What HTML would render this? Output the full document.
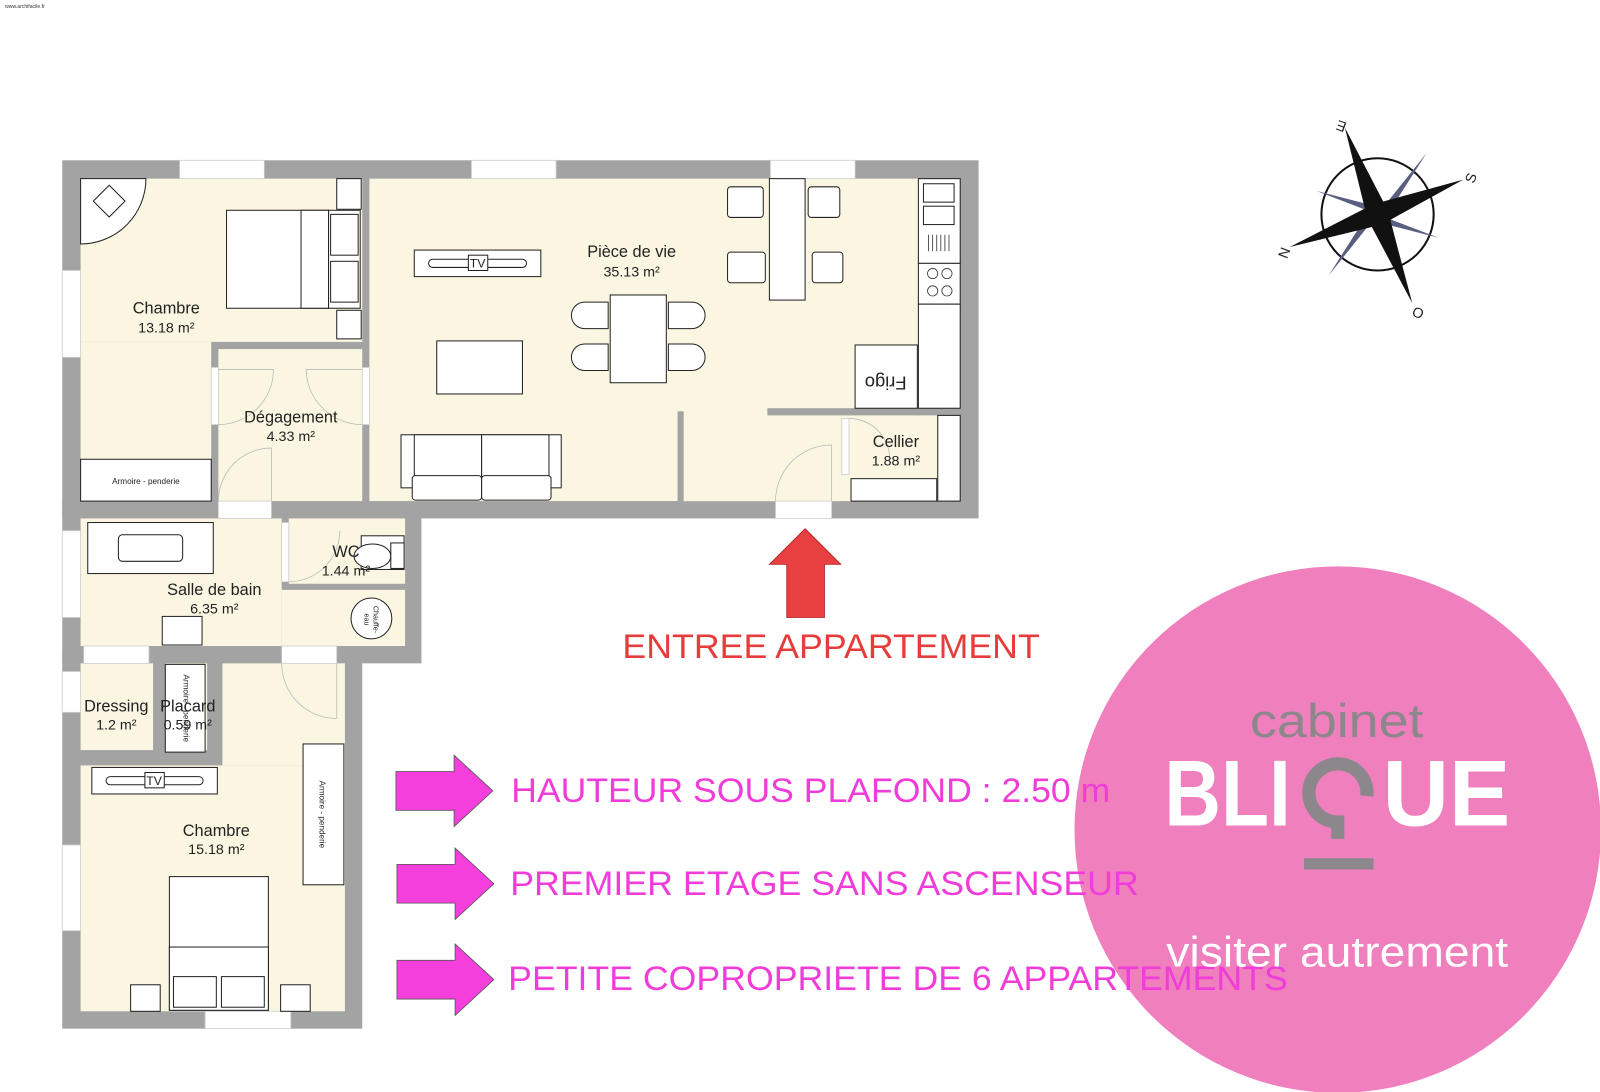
<!DOCTYPE html>
<html><head><meta charset="utf-8"><style>
html,body{margin:0;padding:0;background:#fff;width:1600px;height:1092px;overflow:hidden}
svg{display:block}
text{font-family:"Liberation Sans",sans-serif}
</style></head><body>
<svg width="1600" height="1092" viewBox="0 0 1568 1070" xmlns="http://www.w3.org/2000/svg">
<text x="5" y="8" font-size="5" fill="#333">www.archifacile.fr</text>

<g fill="#a3a3a3">
<rect x="61" y="157" width="898" height="351"/>
<rect x="61" y="490" width="352" height="160"/>
<rect x="61" y="640" width="294" height="368"/>
</g>
<g fill="#fbf6e1">
<rect x="79" y="175" width="276" height="160"/>
<rect x="79" y="335" width="128" height="156"/>
<rect x="214" y="342" width="141" height="149"/>
<rect x="362" y="175" width="538" height="316"/>
<rect x="900" y="175" width="41" height="225"/>
<rect x="752" y="407" width="73" height="84"/>
<rect x="832" y="407" width="109" height="84"/>
<rect x="670" y="400" width="82" height="91"/>
<rect x="79" y="508" width="197" height="125"/>
<rect x="276" y="578" width="121" height="55"/>
<rect x="283" y="508" width="114" height="64"/>
<rect x="79" y="650" width="71" height="85"/>
<rect x="162" y="650" width="41" height="85"/>
<rect x="218" y="650" width="120" height="100"/>
<rect x="79" y="750" width="259" height="241"/>
</g>
<rect x="664" y="403" width="6" height="88" fill="#a3a3a3"/>
<rect x="752" y="400" width="150" height="7" fill="#a3a3a3"/>
<g fill="#fff" stroke="#ccc" stroke-width="0.8">
<rect x="176" y="157" width="83" height="18"/>
<rect x="462" y="157" width="83" height="18"/>
<rect x="755" y="157" width="83" height="18"/>
<rect x="61" y="265" width="18" height="85"/>
<rect x="61" y="520" width="18" height="85"/>
<rect x="61" y="658" width="18" height="40"/>
<rect x="61" y="828" width="18" height="84"/>
<rect x="201" y="991" width="84" height="17"/>
<rect x="82" y="633" width="64" height="17"/>
<rect x="214" y="491" width="52" height="17"/>
<rect x="276" y="633" width="54" height="17"/>
<rect x="760" y="491" width="55" height="17"/>
<rect x="207" y="360" width="7" height="56"/>
<rect x="355" y="360" width="7" height="56"/>
<rect x="825" y="410" width="7" height="55"/>
<rect x="276" y="512" width="7" height="58"/>
</g>
<g fill="none" stroke="#bbb" stroke-width="0.8">
<path d="M214 491 A52 52 0 0 1 266 439 L266 491"/>
<path d="M214 416 A54 54 0 0 0 268 362 L214 362"/>
<path d="M355 416 A55 55 0 0 1 300 362 L355 362"/>
<path d="M760 491 A55 55 0 0 1 815 436 L815 491"/>
<path d="M832 410 A40 40 0 0 1 872 450"/>
<path d="M276 650 A54 54 0 0 0 330 704 L330 650"/>
<path d="M283 570 A50 50 0 0 0 333 520"/>
</g>
<g fill="#fff" stroke="#222" stroke-width="1">
<rect x="222" y="206" width="100" height="96"/><rect x="295" y="206" width="27" height="96"/>
<rect x="322" y="206" width="31" height="96"/><rect x="324" y="210" width="27" height="40"/><rect x="324" y="256" width="27" height="40"/>
<rect x="330" y="175" width="24" height="30"/><rect x="330" y="304" width="24" height="28"/>
<path d="M79 175 L143 175 A64 64 0 0 1 79 239 Z"/>
<rect x="96" y="186" width="22" height="22" transform="rotate(45 107 197)"/>
<rect x="79" y="450" width="128" height="41"/>
<rect x="406" y="245" width="124" height="26"/><rect x="420" y="254" width="96" height="8" rx="4"/><rect x="459" y="250" width="19" height="15"/>
<rect x="428" y="334" width="84" height="52"/>
<rect x="598" y="289" width="55" height="86"/>
<path d="M596 296 H573 A12 12 0 0 0 573 322 H596 Z"/><path d="M596 337 H573 A12 12 0 0 0 573 363 H596 Z"/>
<path d="M655 296 H678 A12 12 0 0 1 678 322 H655 Z"/><path d="M655 337 H678 A12 12 0 0 1 678 363 H655 Z"/>
<rect x="393" y="426" width="157" height="52"/><rect x="406" y="426" width="66" height="42"/><rect x="472" y="426" width="66" height="42"/>
<rect x="404" y="466" width="68" height="24" rx="3"/><rect x="472" y="466" width="68" height="24" rx="3"/>
<rect x="754" y="175" width="35" height="119"/>
<rect x="713" y="183" width="35" height="30" rx="3"/><rect x="792" y="183" width="31" height="30" rx="3"/>
<rect x="713" y="247" width="37" height="30" rx="3"/><rect x="796" y="247" width="30" height="30" rx="3"/>
<rect x="900" y="175" width="41" height="83"/><rect x="905" y="180" width="30" height="18"/><rect x="905" y="202" width="30" height="18"/>
<rect x="900" y="258" width="41" height="40"/>
<rect x="900" y="298" width="41" height="102"/><rect x="838" y="338" width="61" height="62"/>
<rect x="919" y="407" width="22" height="84"/><rect x="834" y="469" width="84" height="22"/>
<rect x="86" y="512" width="123" height="50"/><rect x="116" y="524" width="63" height="26" rx="4"/>
<rect x="159" y="604" width="39" height="28"/>
<rect x="354" y="525" width="42" height="33"/><ellipse cx="365" cy="545" rx="18" ry="12"/><rect x="383" y="532" width="13" height="25"/>
<circle cx="364" cy="606" r="20"/>
<rect x="162" y="651" width="39" height="86"/>
<rect x="90" y="752" width="123" height="26"/><rect x="104" y="761" width="95" height="8" rx="4"/><rect x="142" y="757" width="19" height="15"/>
<rect x="297" y="729" width="40" height="138"/>
<rect x="166" y="859" width="97" height="131"/><rect x="166" y="928" width="97" height="62"/>
<rect x="170" y="957" width="42" height="30"/><rect x="217" y="957" width="42" height="30"/>
<rect x="128" y="965" width="29" height="26"/><rect x="275" y="965" width="29" height="26"/>
</g>
<g stroke="#333" fill="none" stroke-width="0.8">
<circle cx="914" cy="268" r="5"/><circle cx="928" cy="268" r="5"/><circle cx="914" cy="285" r="5"/><circle cx="928" cy="285" r="5"/>
<path d="M910 230v16M914 230v16M918 230v16M922 230v16M926 230v16M930 230v16"/>
</g>
<g font-family="Liberation Serif,serif" fill="#222">
<text x="468" y="262" font-size="12" text-anchor="middle">TV</text>
<text x="151" y="769" font-size="12" text-anchor="middle">TV</text>
<text x="143" y="474" font-size="8" text-anchor="middle">Armoire - penderie</text>
<text transform="translate(313 798) rotate(90)" font-size="8" text-anchor="middle">Armoire - penderie</text>
<text transform="translate(180 694) rotate(90)" font-size="8" text-anchor="middle">Armoire - penderie</text>
<text transform="translate(868 369) rotate(180)" font-size="18" text-anchor="middle">Frigo</text>
<text transform="translate(366 607) rotate(90)" font-size="7" text-anchor="middle" font-family="Liberation Sans,sans-serif">Chauffe-</text>
<text transform="translate(357 607) rotate(90)" font-size="7" text-anchor="middle" font-family="Liberation Sans,sans-serif">eau</text>
</g>
<g fill="#222" font-size="16" text-anchor="middle">
<text x="163" y="307">Chambre</text><text x="163" y="326" font-size="14">13.18 m²</text>
<text x="619" y="252">Pièce de vie</text><text x="619" y="271" font-size="14">35.13 m²</text>
<text x="285" y="414">Dégagement</text><text x="285" y="432" font-size="14">4.33 m²</text>
<text x="878" y="438">Cellier</text><text x="878" y="456" font-size="14">1.88 m²</text>
<text x="339" y="546">WC</text><text x="339" y="564" font-size="14">1.44 m²</text>
<text x="210" y="583">Salle de bain</text><text x="210" y="601" font-size="14">6.35 m²</text>
<text x="114" y="697">Dressing</text><text x="114" y="715" font-size="14">1.2 m²</text>
<text x="184" y="697">Placard</text><text x="184" y="715" font-size="14">0.59 m²</text>
<text x="212" y="819">Chambre</text><text x="212" y="837" font-size="14">15.18 m²</text>
</g>

<path d="M789 518 L824 553 L808 553 L808 605 L771 605 L771 553 L754 553 Z" fill="#e84040" stroke="#b02020" stroke-width="0.8"/>
<text x="610" y="645" font-size="34" fill="#e63c3c" textLength="409" lengthAdjust="spacingAndGlyphs">ENTREE APPARTEMENT</text>

<circle cx="1311" cy="813" r="258" fill="#f07fbd"/>
<g fill="#f53fdc" stroke="#555" stroke-width="0.8">
<path d="M388 756 H445 V740 L483 775 L445 810 V794 H388 Z"/>
<path d="M389 847 H446 V831 L484 866 L446 901 V885 H389 Z"/>
<path d="M389 941 H446 V925 L484 960 L446 995 V979 H389 Z"/>
</g>
<g font-size="34" fill="#f03cd8">
<text x="501" y="786" textLength="587" lengthAdjust="spacingAndGlyphs">HAUTEUR SOUS PLAFOND : 2.50 m</text>
<text x="500" y="877" textLength="616" lengthAdjust="spacingAndGlyphs">PREMIER ETAGE SANS ASCENSEUR</text>
<text x="498" y="970" textLength="764" lengthAdjust="spacingAndGlyphs">PETITE COPROPRIETE DE 6 APPARTEMENTS</text>
</g>
<text x="1225" y="722" font-size="46" fill="#8c878a" textLength="170" lengthAdjust="spacingAndGlyphs">cabinet</text>
<g fill="#fff" font-weight="bold" font-size="92">
<text x="1141" y="809" textLength="124" lengthAdjust="spacingAndGlyphs">BLI</text>
<text x="1355" y="809" textLength="125" lengthAdjust="spacingAndGlyphs">UE</text>
</g>
<path d="M1339.5 780 A28.5 28.5 0 1 0 1311 805.5 L1311 822" fill="none" stroke="#8c878a" stroke-width="13"/>
<rect x="1278" y="841" width="68" height="11" fill="#8c878a"/>
<text x="1143" y="947" font-size="42" fill="#fff" textLength="335" lengthAdjust="spacingAndGlyphs">visiter autrement</text>

<g>
<circle cx="1350" cy="210" r="55" fill="none" stroke="#111" stroke-width="2"/>
<g fill="#5a5f80">
<path d="M1350 210 L1398 150 L1356 216 Z"/><path d="M1350 210 L1302 270 L1344 204 Z"/>
<path d="M1350 210 L1290 187 L1356 204 Z"/><path d="M1350 210 L1410 233 L1344 216 Z"/>
</g>
<g fill="#111">
<path d="M1318 125 L1360 206 L1384 297 L1340 214 Z"/>
<path d="M1434 176 L1354 220 L1264 242 L1346 200 Z"/>
</g>
<g font-family="Liberation Serif,serif" font-size="14" fill="#222" text-anchor="middle">
<text transform="translate(1316 119) rotate(-160)">E</text>
<text transform="translate(1446 176) rotate(-70)">S</text>
<text transform="translate(1254 246) rotate(110)">N</text>
<text transform="translate(1388 311) rotate(20)">O</text>
</g>
</g>
</svg>
</body></html>
